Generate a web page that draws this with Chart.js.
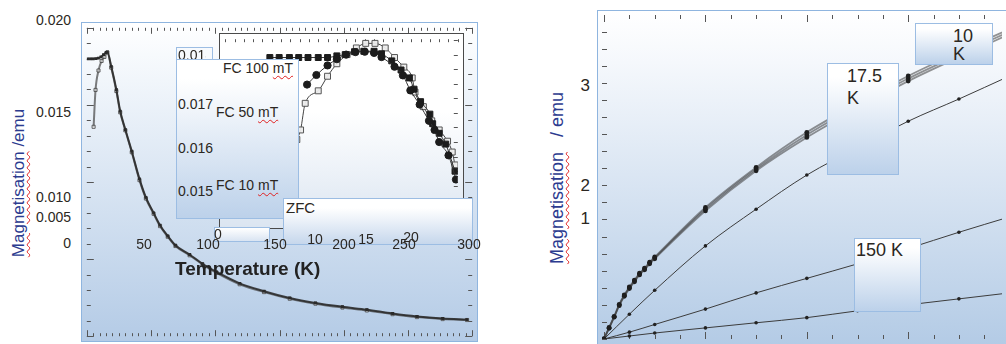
<!DOCTYPE html>
<html>
<head>
<meta charset="UTF-8" />
<title>Magnetisation</title>
<script src="https://cdn.jsdelivr.net/npm/chart.js@4.4.2/dist/chart.umd.min.js"></script>
<style>
    body { margin: 0; width: 1006px; height: 344px; overflow: hidden; background: #fff; position: relative;
           font-family: Arial, "Liberation Sans", sans-serif; }
    .panel { position: absolute; border: 1px solid #8fb5df; }
    .panel canvas { position: absolute; left: 0; top: 0; }
    .box { position: absolute; box-sizing: border-box; border: 1px solid #9cbde3; overflow: hidden;
           background: linear-gradient(#ffffff 0%, #ffffff 12%, #bcd1ea 100%); }
    .t { position: absolute; white-space: nowrap; line-height: 1; font-size: 14px; color: #2b2722; }
    .ytitle { position: absolute; white-space: nowrap; line-height: 1; color: #2c3b8f;
              transform: translate(-50%, -50%) rotate(-90deg); }
    .sp { text-decoration: underline wavy #e02020; text-decoration-thickness: 1px; text-underline-offset: 2px; }
</style>
</head>
<body>
<!-- main temperature plot -->
<div class="panel" id="mainPanel" style="left:81px; top:22px; width:395px; height:318px;
     background:linear-gradient(#ffffff 0%, #f7fafd 10%, #b4cbe6 100%);">
    <canvas id="mainChart" width="395" height="318"></canvas>
</div>
<!-- low temperature inset -->
<div class="panel" id="insetPanel" style="left:219px; top:33px; width:243px; height:194px; border-color:#4a4a4a;
     background:linear-gradient(#ffffff 0%, #ffffff 40%, #dbe5f1 100%);">
    <canvas id="insetChart" width="243" height="194"></canvas>
</div>
<div class="box" id="boxTop" style="left:176px; top:47px; width:37px; height:14px; background:#f7fafd;">
    <div id="boxTopClip" style="position:absolute; left:0; top:0; width:29px; height:14px; overflow:hidden;"></div>
</div>
<div class="box" id="legendBox" style="left:176px; top:59px; width:123px; height:160px;"></div>
<div class="box" id="zfcBox" style="left:283px; top:198px; width:190px; height:47px;
     background:linear-gradient(#ffffff 0%, #ffffff 20%, #c6d7ec 100%);"></div>
<div class="box" id="smallBox" style="left:214px; top:227px; width:56px; height:15px;
     background:linear-gradient(#ffffff 0%, #d9e4f2 100%);"></div>

<!-- field sweep plot -->
<div class="panel" id="rightPanel" style="left:597px; top:10px; width:420px; height:340px;
     background:linear-gradient(#ffffff 0%, #f5f8fc 15%, #b2cae5 100%);">
    <canvas id="rightChart" width="408" height="332"></canvas>
</div>

<script>
    // ---- main panel: M(T), 0-300 K ----
    const mainFcT = [0.8, 3, 5, 7, 9, 11, 13, 15, 16, 19, 23, 26, 30, 35, 41, 46, 52, 57, 63, 69, 80, 90, 101, 119, 138, 158, 178, 199, 218, 238, 257, 277, 296];
    const mainFcM = [0.01799, 0.01799, 0.01799, 0.018, 0.01803, 0.01812, 0.01826, 0.0184, 0.01843, 0.0175, 0.016, 0.0146, 0.0134, 0.012, 0.0102, 0.009, 0.008, 0.0072, 0.0065, 0.0059, 0.0053, 0.0047, 0.00417, 0.00343, 0.00292, 0.00248, 0.00216, 0.00191, 0.00172, 0.00147, 0.00128, 0.00115, 0.00108];
    const mainZfcT = [5.3, 6.8, 9.1, 11.5, 13.7, 16, 19, 23, 26, 30, 35, 41, 46, 52, 57, 63, 69, 80, 90, 101, 119, 138, 158, 178, 199, 218, 238, 257, 277, 296];
    const mainZfcM = [0.01358, 0.01597, 0.01723, 0.01785, 0.01811, 0.0184, 0.01742, 0.0159, 0.01452, 0.01335, 0.01193, 0.01012, 0.00893, 0.00794, 0.00714, 0.00645, 0.00585, 0.00525, 0.00466, 0.00411, 0.00337, 0.00286, 0.00243, 0.00211, 0.00186, 0.00167, 0.00143, 0.00124, 0.00111, 0.00105];

    // ---- inset: 0-25 K ----
    const insetFc100T = [4.8, 5.8, 6.9, 7.9, 8.9, 10, 11, 12, 12.9, 13.9, 14.9, 16, 16.8, 17.9, 18.9, 19.8, 20.3, 21, 22, 22.3, 23, 23.7, 24.7];
    const insetFc100M = [0.01813, 0.01813, 0.01813, 0.01813, 0.01813, 0.01813, 0.01813, 0.01817, 0.0182, 0.01827, 0.01828, 0.01828, 0.01822, 0.01805, 0.01783, 0.01764, 0.01737, 0.01707, 0.01677, 0.01654, 0.01631, 0.01605, 0.0154];
    const insetFc50T = [8.8, 9.8, 11, 12, 13, 14, 15, 16, 16.8, 18.2, 19.1, 19.9, 20.9, 21.9, 22.5, 23, 24, 24.8];
    const insetFc50M = [0.01748, 0.01771, 0.01794, 0.01809, 0.0182, 0.01826, 0.01827, 0.01824, 0.01814, 0.01791, 0.0177, 0.01734, 0.017, 0.01661, 0.01639, 0.0161, 0.01578, 0.0152];
    const insetZfcT = [7.7, 8.1, 8.6, 10, 11, 12, 13.1, 14.1, 15.1, 16.1, 17.2, 18.2, 19.2, 20.1, 20.4, 21.3, 22.2, 23, 23.9, 24.4, 24.7];
    const insetZfcM = [0.01616, 0.01639, 0.01703, 0.01733, 0.01768, 0.01798, 0.0182, 0.01836, 0.01847, 0.01847, 0.01836, 0.01813, 0.0179, 0.01764, 0.0173, 0.01695, 0.01661, 0.01639, 0.01612, 0.01586, 0.01555];

    // ---- right panel: M(H) at several temperatures ----
    const fieldDense = [0, 0.1, 0.2, 0.3, 0.4, 0.5, 0.6, 0.7, 0.8, 0.9, 1, 2, 3, 4, 5, 6, 7, 8];
    const m10K = [0, 0.13, 0.26, 0.4, 0.51, 0.6, 0.68, 0.76, 0.82, 0.89, 0.95, 1.52, 1.99, 2.39, 2.73, 3.05, 3.33, 3.6];
    const m12K = [0, 0.135, 0.265, 0.405, 0.515, 0.61, 0.69, 0.77, 0.83, 0.9, 0.96, 1.54, 2.01, 2.42, 2.76, 3.08, 3.36, 3.63];
    const m15K = [0, 0.125, 0.255, 0.39, 0.5, 0.59, 0.67, 0.75, 0.81, 0.88, 0.94, 1.5, 1.97, 2.36, 2.7, 3.02, 3.3, 3.57];
    const fieldSparse = [0, 0.5, 1, 2, 3, 4, 5, 6, 7, 8];
    const m17K = [0, 0.29, 0.57, 1.09, 1.52, 1.92, 2.24, 2.55, 2.81, 3.08];
    const m150K = [0, 0.08, 0.17, 0.35, 0.54, 0.71, 0.88, 1.06, 1.25, 1.43];
    const m300K = [0, 0.035, 0.07, 0.13, 0.19, 0.25, 0.33, 0.4, 0.47, 0.54];

    // ---- texts ----
    const mainXTickLabels = ["50", "100", "150", "200", "250", "300"];
    const insetXTickLabels = ["0", "10", "15", "20"];
    const mainYTickLabels = ["0.020", "0.015", "0.010", "0.005", "0"];
    const insetYTickLabels = ["0.018", "0.017", "0.016", "0.015"];
    const rightYTickLabels = ["3", "2", "1"];
    const seriesLabels = ["FC 100 mT", "FC 50 mT", "FC 10 mT"];
    const zfcLabel = "ZFC";
    const tempLabels = ["10 K", "17.5 K", "150 K"];

    function pts(xs, ys) {
        return xs.map(function (x, i) { return { x: x, y: ys[i] }; });
    }

    // inward tick marks along the frame, placed through the chart's scales
    const innerTicks = {
        id: "innerTicks",
        beforeDatasetsDraw(chart, args, opts) {
            const ctx = chart.ctx, a = chart.chartArea;
            ctx.save();
            ctx.strokeStyle = opts.color;
            ctx.lineWidth = 1;
            ["x", "y"].forEach(function (id) {
                const o = opts[id];
                if (!o) return;
                const s = chart.scales[id];
                const first = Math.ceil(s.min / o.step - 1e-6);
                const last = Math.floor(s.max / o.step + 1e-6);
                for (let i = first; i <= last; i++) {
                    const p = Math.round(s.getPixelForValue(i * o.step)) + 0.5;
                    const len = o.major && i % o.major === 0 ? o.majorLen : o.len;
                    ctx.beginPath();
                    o.sides.forEach(function (side) {
                        if (side === "top") { ctx.moveTo(p, a.top); ctx.lineTo(p, a.top + len); }
                        if (side === "bottom") { ctx.moveTo(p, a.bottom); ctx.lineTo(p, a.bottom - len); }
                        if (side === "left") { ctx.moveTo(a.left, p); ctx.lineTo(a.left + len, p); }
                        if (side === "right") { ctx.moveTo(a.right, p); ctx.lineTo(a.right - len, p); }
                    });
                    ctx.stroke();
                }
            });
            ctx.restore();
        }
    };

    function makeChart(id, datasets, xr, yr, ticks) {
        return new Chart(document.getElementById(id), {
            type: "line",
            data: { datasets: datasets },
            options: {
                responsive: false,
                animation: false,
                devicePixelRatio: 1,
                layout: { padding: 0 },
                plugins: { legend: { display: false }, tooltip: { enabled: false }, innerTicks: ticks },
                scales: {
                    x: { type: "linear", min: xr[0], max: xr[1], display: false },
                    y: { type: "linear", min: yr[0], max: yr[1], display: false }
                },
                elements: { line: { cubicInterpolationMode: "monotone" } }
            },
            plugins: [innerTicks]
        });
    }

    makeChart("mainChart", [
        { label: "FC", data: pts(mainFcT, mainFcM), borderColor: "rgba(40,40,40,0.85)", borderWidth: 2,
          pointStyle: "rect", pointRadius: 2, pointBackgroundColor: "#2a2a2a", pointBorderWidth: 0 },
        { label: "ZFC", data: pts(mainZfcT, mainZfcM), borderColor: "rgba(70,70,70,0.7)", borderWidth: 2,
          pointStyle: "rect", pointRadius: 2.2, pointBackgroundColor: "rgba(230,230,230,0.6)", pointBorderColor: "#444", pointBorderWidth: 0.8 }
    ], [0, 300], [0, 0.02], {
        color: "#555",
        x: { step: 5, major: 10, len: 3, majorLen: 6, sides: ["top", "bottom"] },
        y: { step: 0.001, major: 5, len: 4, majorLen: 7, sides: ["left", "right"] }
    });

    makeChart("insetChart", [
        { label: seriesLabels[1], data: pts(insetFc50T, insetFc50M), borderColor: "#333", borderWidth: 1,
          pointStyle: "circle", pointRadius: 3.6, pointBackgroundColor: "#1c1c1c", pointBorderColor: "#1c1c1c" },
        { label: seriesLabels[0], data: pts(insetFc100T, insetFc100M), borderColor: "#333", borderWidth: 1,
          pointStyle: "rect", pointRadius: 4.2, pointBackgroundColor: "#1c1c1c", pointBorderColor: "#1c1c1c" },
        { label: zfcLabel, data: pts(insetZfcT, insetZfcM), borderColor: "#444", borderWidth: 1,
          pointStyle: "rect", pointRadius: 4.2, pointBackgroundColor: "rgba(236,236,236,0.95)", pointBorderColor: "#555", pointBorderWidth: 1 }
    ], [0, 25], [0.01416, 0.01857], {
        color: "#555",
        x: { step: 1, len: 3, sides: ["top"] },
        y: { step: 0.00035, len: 4, sides: ["right"] }
    });

    const bundle = { borderColor: "rgba(60,60,60,0.55)", borderWidth: 1.8, pointRadius: 2.4,
                     pointBackgroundColor: "#1e1e1e", pointBorderWidth: 0 };
    const thin = { borderColor: "#3c3c3c", borderWidth: 1, pointRadius: 1.8,
                   pointBackgroundColor: "#222", pointBorderWidth: 0 };
    makeChart("rightChart", [
        Object.assign({ label: tempLabels[0], data: pts(fieldDense, m10K) }, bundle),
        Object.assign({ label: "12.5 K", data: pts(fieldDense, m12K) }, bundle),
        Object.assign({ label: "15 K", data: pts(fieldDense, m15K) }, bundle),
        Object.assign({ label: tempLabels[1], data: pts(fieldSparse, m17K) }, thin),
        Object.assign({ label: tempLabels[2], data: pts(fieldSparse, m150K) }, thin),
        Object.assign({ label: "300 K", data: pts(fieldSparse, m300K) }, thin)
    ], [-0.04, 7.85], [0, 3.794], {
        color: "#555",
        x: { step: 0.5, major: 4, len: 4, majorLen: 7, sides: ["top", "bottom"] },
        y: { step: 0.2, len: 5, sides: ["left"] }
    });

    // ---- text overlays (PowerPoint style text boxes) ----
    function addText(parent, txt, left, cy, size, extra) {
        const d = document.createElement("div");
        d.className = "t";
        d.style.fontSize = size + "px";
        d.style.left = left + "px";
        d.style.top = (cy - size * 0.49) + "px";
        d.innerHTML = txt;
        if (extra) Object.assign(d.style, extra);
        parent.appendChild(d);
        return d;
    }
    function wavyUnit(s) {
        const i = s.lastIndexOf(" ");
        return s.slice(0, i + 1) + '<span class="sp">' + s.slice(i + 1) + "</span>";
    }
    const body = document.body;
    const legendBox = document.getElementById("legendBox");

    // x tick labels: inset ones peek out under the main ones
    const mainXLabelCx = [144, 208, 275, 344, 404, 469];
    const insetXLabelPos = [[218, 234], [315, 239], [366, 239], [411, 237]];
    insetXTickLabels.forEach(function (s, i) {
        const d = addText(body, s, insetXLabelPos[i][0], insetXLabelPos[i][1], 14);
        d.style.transform = "translateX(-50%)";
    });
    mainXTickLabels.forEach(function (s, i) {
        const d = addText(body, s, mainXLabelCx[i], 244, 14);
        d.style.transform = "translateX(-50%)";
    });

    // main y tick labels (right aligned at x = 71)
    const mainYLabelCy = [20, 112, 197, 217, 243];
    mainYTickLabels.forEach(function (s, i) {
        const d = addText(body, s, 0, mainYLabelCy[i], 14);
        d.style.left = "auto";
        d.style.right = (1006 - 71) + "px";
    });

    // inset y tick labels sit inside the legend boxes (top one is cut off)
    addText(document.getElementById("boxTopClip"), insetYTickLabels[0], 1, 7, 14);
    const insetYLabelCy = [44, 88, 131];
    insetYTickLabels.slice(1).forEach(function (s, i) {
        addText(legendBox, s, 1, insetYLabelCy[i], 14);
    });
    const seriesPos = [[46, 8], [39, 52], [39, 125]];
    seriesLabels.forEach(function (s, i) {
        addText(legendBox, wavyUnit(s), seriesPos[i][0], seriesPos[i][1], 14);
    });
    addText(document.getElementById("zfcBox"), zfcLabel, 2, 8, 15);
    addText(body, "Temperature (K)", 175, 268, 19, { fontWeight: "bold", color: "#222" });

    // y titles
    const lt = document.createElement("div");
    lt.className = "ytitle";
    lt.style.fontSize = "17px";
    lt.style.left = "18px";
    lt.style.top = "183px";
    lt.innerHTML = '<span class="sp">Magnetisation</span> /emu';
    body.appendChild(lt);

    const rt = document.createElement("div");
    rt.className = "ytitle";
    rt.style.fontSize = "18px";
    rt.style.left = "557px";
    rt.style.top = "178px";
    rt.innerHTML = '<span class="sp">Magnetisation</span>&nbsp;&nbsp; /&nbsp;emu';
    body.appendChild(rt);

    // right y tick labels (right aligned at x = 590)
    const rightYLabelCy = [85, 185, 218];
    rightYTickLabels.forEach(function (s, i) {
        const d = addText(body, s, 0, rightYLabelCy[i], 17);
        d.style.left = "auto";
        d.style.right = (1006 - 590) + "px";
    });

    // temperature text boxes on the right panel
    const tempBoxes = [
        { l: 915, t: 23, w: 78, h: 42, tx: 37, ty: 3, lh: 18 },
        { l: 827, t: 63, w: 72, h: 112, tx: 19, ty: 1, lh: 22 },
        { l: 854, t: 238, w: 67, h: 74, tx: 1, ty: 2, lh: 18 }
    ];
    tempLabels.forEach(function (s, i) {
        const b = tempBoxes[i];
        const box = document.createElement("div");
        box.className = "box";
        Object.assign(box.style, { left: b.l + "px", top: b.t + "px", width: b.w + "px", height: b.h + "px" });
        const d = document.createElement("div");
        d.className = "t";
        Object.assign(d.style, { left: b.tx + "px", top: b.ty + "px", fontSize: "18px", lineHeight: b.lh + "px" });
        d.innerHTML = i < 2 ? s.replace(" ", "<br>") : s;
        box.appendChild(d);
        body.appendChild(box);
    });
</script>
</body>
</html>
